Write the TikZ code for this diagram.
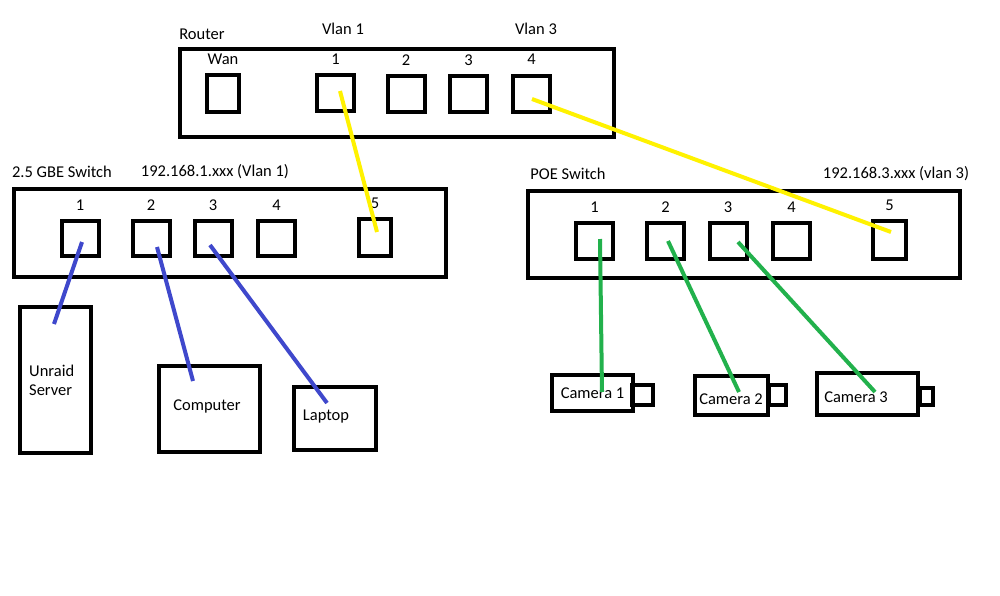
\documentclass[tikz,border=0pt]{standalone}
\usepackage{fontspec}
\setmainfont{Carlito}
\usepackage{tikz}
\usetikzlibrary{calc}
\definecolor{cableyellow}{RGB}{255,242,0}
\definecolor{cableblue}{RGB}{63,72,204}
\definecolor{cablegreen}{RGB}{34,177,76}

\begin{document}
\begin{tikzpicture}[x=1pt, y=-1pt, font=\fontsize{16.5}{19}\selectfont,
    box/.style={draw=black, line width=4, inner sep=0, align=center},
    port/.style={box, minimum width=37, minimum height=36},
    portnum/.style={label distance=5},
    cable/.style={line width=4}]
        \fill[white] (0,0) rectangle (1000,595);
        \useasboundingbox (0,0) rectangle (1000,595);

        % Router
        \node[box, minimum width=434, minimum height=88.5] (router) at (397,92.75) {};
        \node (routertitle) at (202,34) {Router};
        \node (vlanone) at (343,29) {Vlan 1};
        \node (vlanthree) at (536,29) {Vlan 3};
        \node[port, minimum width=32, minimum height=37,
              label={[portnum]above:Wan}] (rwan) at (223,93.5) {};
        \node[port, label={[portnum]above:1}] (rp1) at (335.5,93) {};
        \node[port, label={[portnum]above:2}] (rp2) at (406,94) {};
        \node[port, label={[portnum]above:3}] (rp3) at (468.5,94) {};
        \node[port, label={[portnum]above:4}] (rp4) at (531.5,93.5) {};

        % 2.5 GBE switch
        \node[box, minimum width=432, minimum height=88] (gbe) at (230,233) {};
        \node (gbetitle) at (62,172) {2.5 GBE Switch};
        \node (gbenet) at (215,172) {192.168.1.xxx (Vlan 1)};
        \node[port, minimum height=35, label={[portnum]above:1}] (gp1) at (80,238.5) {};
        \node[port, minimum height=35, label={[portnum]above:2}] (gp2) at (151,238.5) {};
        \node[port, minimum height=35, label={[portnum]above:3}] (gp3) at (213,238.5) {};
        \node[port, minimum height=35, label={[portnum]above:4}] (gp4) at (276.5,238.5) {};
        \node[port, minimum width=32, minimum height=37,
              label={[portnum]above:5}] (gp5) at (375,237.5) {};

        % POE switch
        \node[box, minimum width=432, minimum height=87] (poe) at (744,234.5) {};
        \node (poetitle) at (568,174) {POE Switch};
        \node (poenet) at (896,174) {192.168.3.xxx (vlan 3)};
        \node[port, label={[portnum]above:1}] (pp1) at (594.5,241) {};
        \node[port, label={[portnum]above:2}] (pp2) at (665.5,241) {};
        \node[port, label={[portnum]above:3}] (pp3) at (728,241) {};
        \node[port, label={[portnum]above:4}] (pp4) at (791.5,241) {};
        \node[port, minimum width=33, minimum height=38,
              label={[portnum]above:5}] (pp5) at (889.5,240) {};

        % Devices
        \node[box, minimum width=71, minimum height=146] (server) at (55.5,380) {};
        \node[align=left, anchor=west, inner sep=0] (servertext) at (29,380) {Unraid\\Server};
        \node[box, minimum width=101, minimum height=86] (computer)
              at (209.5,409) {};
        \node (computertext) at (207,406) {Computer};
        \node[box, minimum width=82, minimum height=63] (laptop)
              at (335,418.5) {};
        \node (laptoptext) at (326,417) {Laptop};

        % Cameras
        \node[box, minimum width=81, minimum height=36] (camone) at (592.5,393) {Camera 1};
        \node[box, minimum width=21, minimum height=20] (lensone) at (642.5,395) {};
        \node[box, minimum width=73, minimum height=39] (camtwo) at (731.5,395.5) {};
        \node (camtwotext) at (731,399) {Camera 2};
        \node[box, minimum width=17, minimum height=20] (lenstwo) at (777.5,395) {};
        \node[box, minimum width=101, minimum height=42] (camthree) at (867.5,394) {};
        \node (camthreetext) at (856,397) {Camera 3};
        \node[box, minimum width=13, minimum height=17] (lensthree) at (926.5,396.5) {};

        % Cables
        \draw[cable, cableyellow] ($(rp1)+(4.5,-2)$) -- ($(gp5)+(2,-5.5)$);
        \draw[cable, cableyellow] ($(rp4)+(0.5,5.5)$) -- ($(pp5)+(1.5,-8)$);
        \draw[cable, cableblue] ($(gp1)+(2,3.5)$) -- ($(server)+(-1.5,-56)$);
        \draw[cable, cableblue] ($(gp2)+(6,8.5)$) -- ($(computer)+(-16.5,-28)$);
        \draw[cable, cableblue] ($(gp3)+(-3,6.5)$) -- ($(laptop)+(-8,-15.5)$);
        \draw[cable, cablegreen] ($(pp1)+(5.5,-2)$) -- ($(camone)+(9.5,-1)$);
        \draw[cable, cablegreen] ($(pp2)+(2.5,0)$) -- ($(camtwo)+(7.5,-3.5)$);
        \draw[cable, cablegreen] ($(pp3)+(10,1)$) -- ($(camthree)+(7.5,-2)$);
\end{tikzpicture}
\end{document}
